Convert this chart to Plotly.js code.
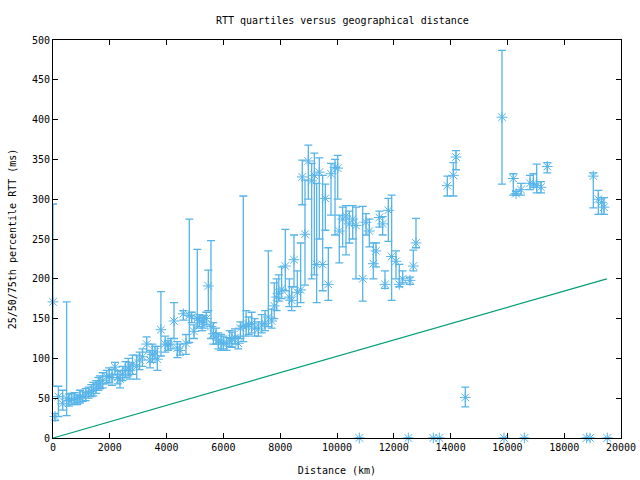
<!DOCTYPE html>
<html>
<head>
<meta charset="utf-8">
<script src="https://cdn.plot.ly/plotly-3.0.1.min.js"></script>
<style>html,body{margin:0;padding:0;background:#fff;}#chart{width:640px;height:480px;}</style>
</head>
<body>
<div id="chart"></div>
<script>
// Distance (km) of each destination
var distance = [0,70,190,340,480,560,650,760,850,950,1050,1150,1250,1350,1420,1520,1600,1655,1750,1890,1980,2080,2183,2280,2360,2450,2550,2650,2711,2800,2947,3050,3150,3299,3415,3500,3592,3674,3800,3950,4050,4143,4261,4378,4472,4589,4683,4800,4883,4965,5081,5152,5250,5317,5400,5470,5563,5645,5740,5821,5920,6000,6115,6220,6300,6408,6525,6600,6701,6800,6889,6995,7100,7230,7350,7465,7582,7700,7792,7875,7950,8050,8180,8320,8404,8486,8602,8720,8778,8873,8990,9108,9202,9284,9377,9495,9589,9695,9789,9930,10025,10081,10200,10317,10434,10552,10669,10786,10905,11021,11138,11279,11373,11490,11608,11690,11807,11924,12077,12194,12312,12511,12570,12687,12781,13391,13602,13885,14096,14190,14518,15810,15880,16208,16303,16479,16596,16796,16913,17031,17183,17405,18791,18908,19025,19201,19320,19401,19518];
// 25th percentile RTT (ms)
var q25 = [65,22,27,35,28,40,42,44,42,44,46,47,50,52,53,56,60,62,63,68,70,66,80,68,63,72,76,78,74,80,74,86,90,108,88,95,100,85,103,108,110,112,125,101,104,148,105,120,145,125,138,140,135,138,142,160,125,118,118,112,110,112,110,115,114,118,112,125,121,128,130,132,128,128,132,135,140,138,150,160,172,175,185,165,160,190,165,170,293,192,300,200,205,170,250,185,261,173,280,255,300,220,240,230,245,250,200,0,172,255,240,200,215,265,255,188,247,173,200,190,195,0,193,210,239,0,0,304,304,337,39,319,0,305,305,305,0,312,315,308,308,333,0,0,289,281,281,281,0];
// Median RTT (ms)
var q50 = [171,27,52,43,50,47,48,50,48,51,52,54,57,59,60,64,68,68,72,77,78,76,89,76,74,80,85,88,85,92,90,98,102,118,98,105,108,99,136,118,117,118,147,113,110,156,119,154,152,134,150,148,145,147,150,191,140,131,128,123,120,118,119,122,125,126,119,138,141,140,143,144,138,137,142,144,152,147,166,177,182,187,216,177,173,224,183,186,328,256,348,323,330,218,334,218,301,193,332,340,339,260,275,279,269,275,267,0,200,271,260,219,235,277,269,193,286,228,222,193,200,0,198,216,245,0,0,317,330,353,51,403,0,326,307,312,0,320,320,317,315,341,0,0,329,300,296,290,0];
// 75th percentile RTT (ms)
var q75 = [294,31,65,60,171,55,56,57,54,60,58,62,64,67,70,72,76,78,82,85,88,86,95,84,85,90,96,100,95,104,104,108,112,127,110,118,115,115,184,128,122,125,170,121,118,160,130,275,158,142,237,155,152,154,158,211,248,145,138,132,130,128,126,135,133,137,128,146,304,160,152,158,150,146,155,160,235,162,195,200,205,215,262,200,190,255,210,245,349,324,368,345,358,320,352,330,319,239,345,350,355,280,290,292,285,292,290,0,291,282,275,245,245,285,278,210,301,305,235,218,210,0,202,236,276,0,0,329,346,361,64,487,0,332,310,320,0,330,332,344,322,346,0,0,333,311,302,302,0];
// Propagation lower bound line
var boundX = [0, 19500];
var boundY = [0, 200];

var xTicks = [0,2000,4000,6000,8000,10000,12000,14000,16000,18000,20000];
var yTicks = [0,50,100,150,200,250,300,350,400,450,500];

var errPlus = q75.map(function(v,i){return v - q50[i];});
var errMinus = q50.map(function(v,i){return v - q25[i];});

var blue = '#56b4e9';
var green = '#009e73';
var font = {family: 'DejaVu Sans Mono, monospace', size: 10, color: '#000'};

var traces = [
  {
    x: distance, y: q50, type: 'scatter', mode: 'markers', cliponaxis: false,
    marker: {symbol: 'asterisk-open', size: 9, color: blue, line: {width: 1, color: blue}},
    error_y: {type: 'data', symmetric: false, array: errPlus, arrayminus: errMinus,
              color: blue, thickness: 1.3, width: 4},
    hoverinfo: 'x+y', showlegend: false
  },
  {
    x: boundX, y: boundY, type: 'scatter', mode: 'lines',
    line: {color: green, width: 1.2}, showlegend: false
  }
];

var axisCommon = {
  showline: true, linecolor: '#000', linewidth: 1, mirror: 'ticks',
  ticks: 'inside', ticklen: 5, tickwidth: 1, tickcolor: '#000',
  showgrid: false, zeroline: false, tickfont: font, fixedrange: true
};

var layout = {
  width: 640, height: 480,
  margin: {l: 53, r: 19, t: 40, b: 42, pad: 0},
  paper_bgcolor: '#fff', plot_bgcolor: '#fff',
  font: font,
  title: {text: 'RTT quartiles versus geographical distance', font: font, x: 0.535, xanchor: 'center', y: 0.958, yanchor: 'middle'},
  xaxis: Object.assign({}, axisCommon, {
    range: [0, 20000], tickvals: xTicks, ticktext: xTicks.map(String),
    title: {text: 'Distance (km)', font: font, standoff: 14}
  }),
  yaxis: Object.assign({}, axisCommon, {
    range: [0, 500], tickvals: yTicks, ticktext: yTicks.map(String),
    title: {text: '25/50/75th percentile RTT (ms)', font: font, standoff: 13}
  }),
  showlegend: false
};

Plotly.newPlot('chart', traces, layout, {displayModeBar: false, staticPlot: true});
</script>
</body>
</html>
